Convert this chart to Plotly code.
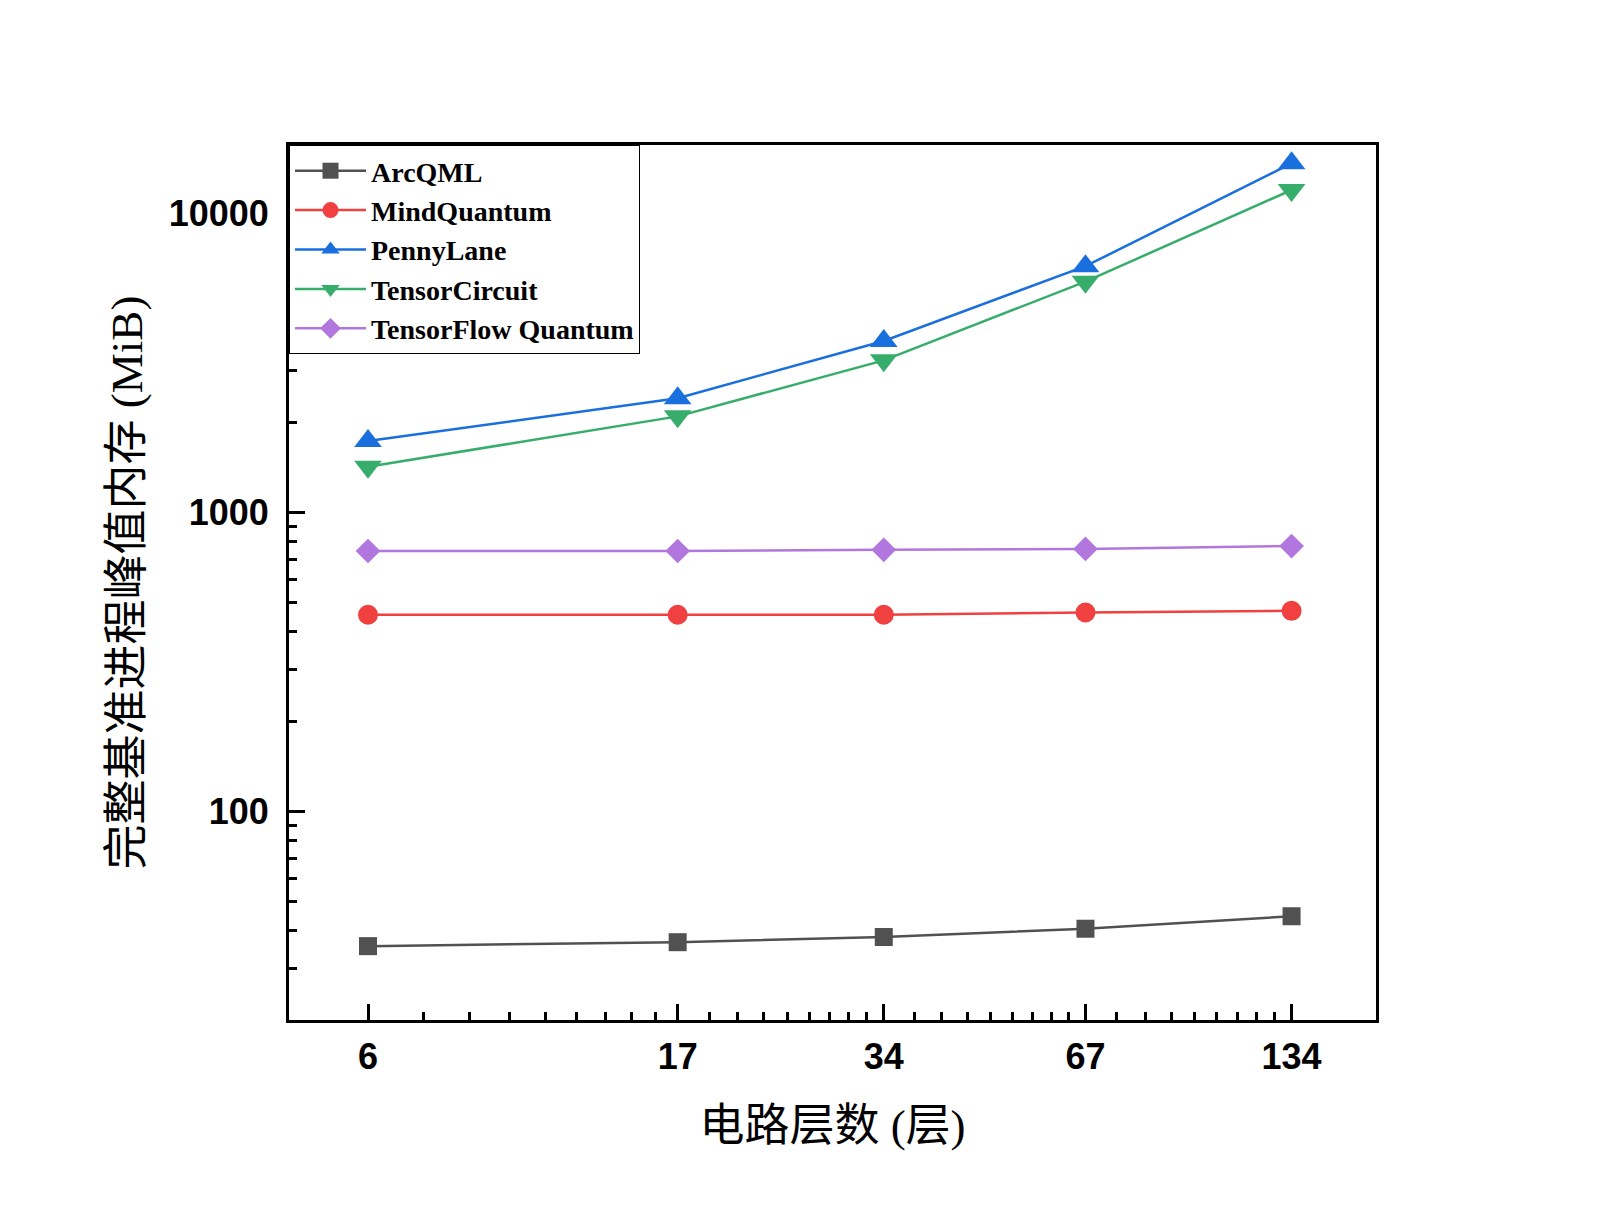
import numpy as np
import plotly.graph_objects as go

# circuit layers (x) and peak memory in MiB (y)
layers = [6, 17, 34, 67, 134]
arcqml = [35.5, 36.6, 38.1, 40.6, 44.7]
mindquantum = [456, 456, 456, 464, 470]
pennylane = [1738, 2416, 3758, 6683, 14760]
tensorcircuit = [1426, 2102, 3236, 5934, 12020]
tfq = [745, 745, 752, 757, 774]

y_ticks = [100, 1000, 10000]

series = [
    ("ArcQML", arcqml, "#515151", "square", 18),
    ("MindQuantum", mindquantum, "#F14040", "circle", 20),
    ("PennyLane", pennylane, "#1A6FDF", "triangle-up", 24),
    ("TensorCircuit", tensorcircuit, "#37AD6B", "triangle-down", 24),
    ("TensorFlow Quantum", tfq, "#B177DE", "diamond", 19),
]

fig = go.Figure()
for name, vals, color, symbol, size in series:
    fig.add_trace(go.Scatter(
        x=layers, y=vals, name=name, mode="lines+markers",
        line=dict(color=color, width=2.5),
        marker=dict(symbol=symbol, size=size, color=color, line=dict(width=0)),
    ))

# Origin-style minor ticks: 8 evenly spaced values between the major x ticks
x_minor = []
for a, b in zip(layers[:-1], layers[1:]):
    x_minor += [a + k * (b - a) / 9 for k in range(1, 9)]
y_minor = [m * d for d in (10, 100, 1000) for m in range(2, 10) if m * d > 25]

tick_font = dict(family="Liberation Sans, Arial", size=36, color="black", weight="bold")
title_font = dict(family="Liberation Serif, Noto Sans CJK SC", size=45, color="black")

fig.update_xaxes(
    type="log", range=[np.log10(4.6), np.log10(178)],
    tickvals=layers, ticktext=[str(v) for v in layers],
    ticks="inside", ticklen=16, tickwidth=3, tickcolor="black",
    showline=True, linewidth=3, linecolor="black", mirror=True,
    showgrid=False, zeroline=False,
    tickfont=tick_font, ticklabelstandoff=3,
    minor=dict(tickvals=x_minor, ticks="inside", ticklen=8, tickwidth=2.5,
               tickcolor="black", showgrid=False),
    title=dict(text="电路层数 (层)", font=title_font, standoff=34),
)
fig.update_yaxes(
    type="log", range=[np.log10(20.1), np.log10(17000)],
    tickvals=y_ticks, ticktext=[str(v) for v in y_ticks],
    ticks="inside", ticklen=16, tickwidth=3, tickcolor="black",
    showline=True, linewidth=3, linecolor="black", mirror=True,
    showgrid=False, zeroline=False,
    tickfont=tick_font, ticklabelstandoff=10,
    minor=dict(tickvals=y_minor, ticks="inside", ticklen=8, tickwidth=2.5,
               tickcolor="black", showgrid=False),
    title=dict(text="完整基准进程峰值内存 (MiB)", font=title_font, standoff=12),
)

fig.update_layout(
    width=1600, height=1225,
    margin=dict(l=281, r=232, t=137, b=213),
    paper_bgcolor="white", plot_bgcolor="white",
    showlegend=True,
    legend=dict(
        x=0, y=1, xanchor="left", yanchor="top",
        bgcolor="white", bordercolor="black", borderwidth=1,
        font=dict(family="Liberation Serif, Times New Roman", size=28,
                  color="black", weight="bold"),
        itemwidth=71,
    ),
)

fig.write_html("out.html")
